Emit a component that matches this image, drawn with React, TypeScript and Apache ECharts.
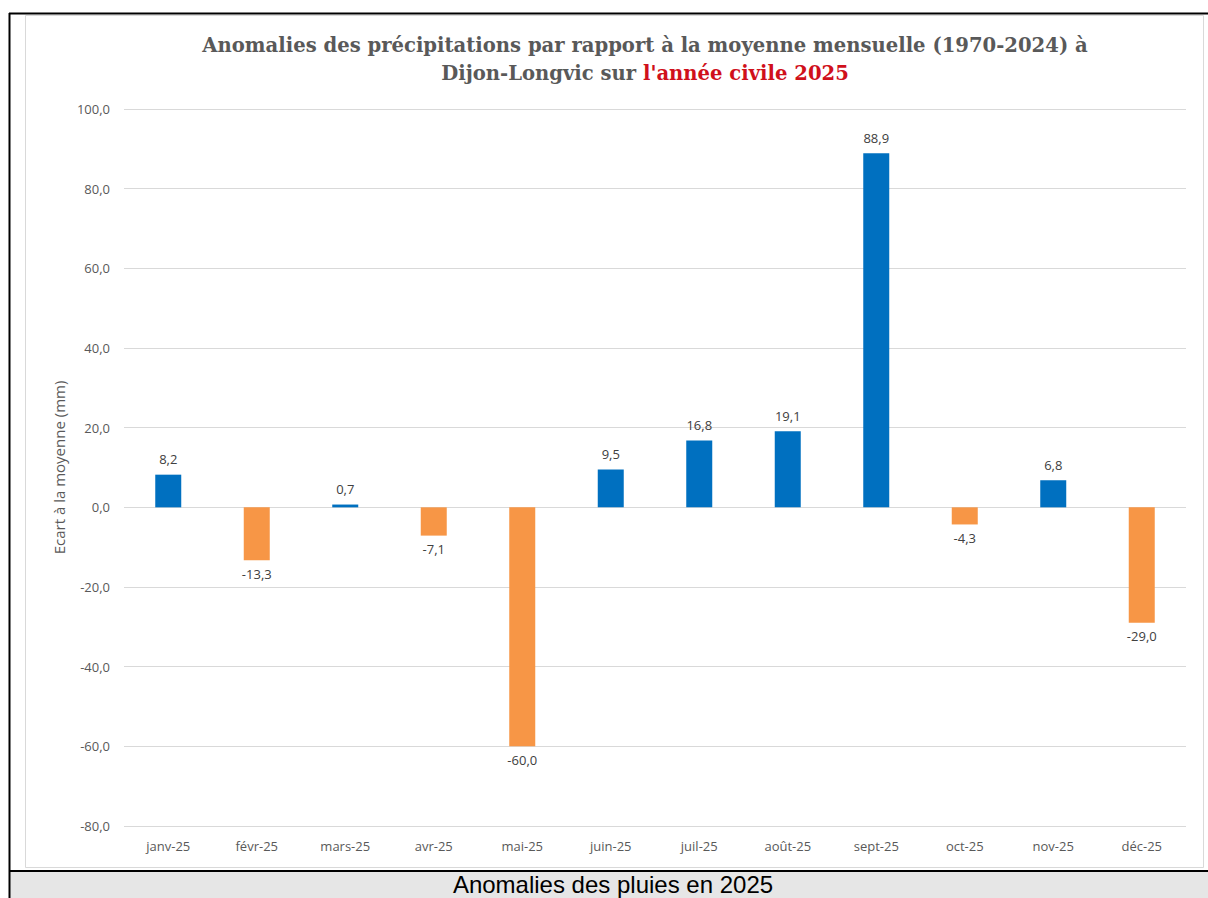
import React, { useEffect, useRef } from "react";
import * as echarts from "echarts";

const months = ["janv-25", "févr-25", "mars-25", "avr-25", "mai-25", "juin-25", "juil-25", "août-25", "sept-25", "oct-25", "nov-25", "déc-25"];
const anomalies = [8.2, -13.3, 0.7, -7.1, -60.0, 9.5, 16.8, 19.1, 88.9, -4.3, 6.8, -29.0];
const yTicks = { min: -80, max: 100, interval: 20 };
const titleLine1 = "Anomalies des précipitations par rapport à la moyenne mensuelle (1970-2024) à";
const titleLine2a = "Dijon-Longvic sur ";
const titleLine2b = "l'année civile 2025";
const yAxisName = "Ecart à la moyenne (mm)";
const caption = "Anomalies des pluies en 2025";

const BLUE = "#0070c0";
const ORANGE = "#f79646";

const fmt = (v: number) => v.toFixed(1).replace(".", ",");

export default function App() {
  const ref = useRef<HTMLDivElement>(null);
  useEffect(() => {
    if (!ref.current) return;
    const chart = echarts.init(ref.current, undefined, { renderer: "svg" });
    const data = anomalies.map((v) => ({
      value: v,
      itemStyle: { color: v >= 0 ? BLUE : ORANGE },
      label: { position: v >= 0 ? "top" : "bottom", distance: v >= 0 ? 9 : 7 },
    }));
    chart.setOption({
      animation: false,
      backgroundColor: "#ffffff",
      title: {
        left: 640,
        top: 26,
        textAlign: "center",
        text: `{a|${titleLine1}}\n{a|${titleLine2a}}{r|${titleLine2b}}`,
        textStyle: {
          rich: {
            a: { fontFamily: "DejaVu Serif", fontWeight: "bold", fontSize: 19.6, color: "#595959", lineHeight: 28 },
            r: { fontFamily: "DejaVu Serif", fontWeight: "bold", fontSize: 19.6, color: "#d0101b", lineHeight: 28 },
          },
        },
      },
      grid: { left: 124, right: 22, top: 109, bottom: 72, containLabel: false },
      xAxis: {
        type: "category",
        data: months,
        position: "bottom",
        axisLine: { show: false, onZero: false },
        axisTick: { show: false },
        axisLabel: { color: "#595959", fontFamily: "Open Sans", fontSize: 13, margin: 13 },
      },
      yAxis: {
        type: "value",
        min: yTicks.min,
        max: yTicks.max,
        interval: yTicks.interval,
        name: yAxisName,
        nameLocation: "middle",
        nameGap: 58,
        nameRotate: 90,
        nameTextStyle: { color: "#595959", fontFamily: "Open Sans", fontSize: 15 },
        axisLine: { show: false },
        axisTick: { show: false },
        axisLabel: { color: "#595959", fontFamily: "Open Sans", fontSize: 13, margin: 14, formatter: (v: number) => fmt(v) },
        splitLine: { lineStyle: { color: "#d9d9d9", width: 1 } },
      },
      series: [
        {
          type: "bar",
          data,
          barWidth: 26,
          label: {
            show: true,
            color: "#404040",
            fontFamily: "Open Sans",
            fontSize: 13,
            formatter: (p: any) => fmt(p.value),
          },
        },
      ],
      graphic: [
        { type: "rect", shape: { x: 25.5, y: 15.5, width: 1178, height: 852 }, style: { fill: "none", stroke: "#d9d9d9", lineWidth: 1 }, z: -1 },
        { type: "rect", shape: { x: 10, y: 872, width: 1198, height: 26 }, style: { fill: "#e6e6e6" } },
        { type: "line", shape: { x1: 9, y1: 13.5, x2: 1208, y2: 13.5 }, style: { stroke: "#000", lineWidth: 2 } },
        { type: "line", shape: { x1: 9.5, y1: 13, x2: 9.5, y2: 898 }, style: { stroke: "#000", lineWidth: 2 } },
        { type: "line", shape: { x1: 9, y1: 871, x2: 1208, y2: 871 }, style: { stroke: "#000", lineWidth: 2 } },
        {
          type: "text",
          x: 613,
          y: 884,
          style: { text: caption, fill: "#000", font: "24px 'Liberation Sans', Arial, sans-serif", textAlign: "center", textVerticalAlign: "middle" },
        },
      ],
    });
    return () => chart.dispose();
  }, []);
  return <div ref={ref} style={{ position: "fixed", left: 0, top: 0, width: 1208, height: 898 }} />;
}
